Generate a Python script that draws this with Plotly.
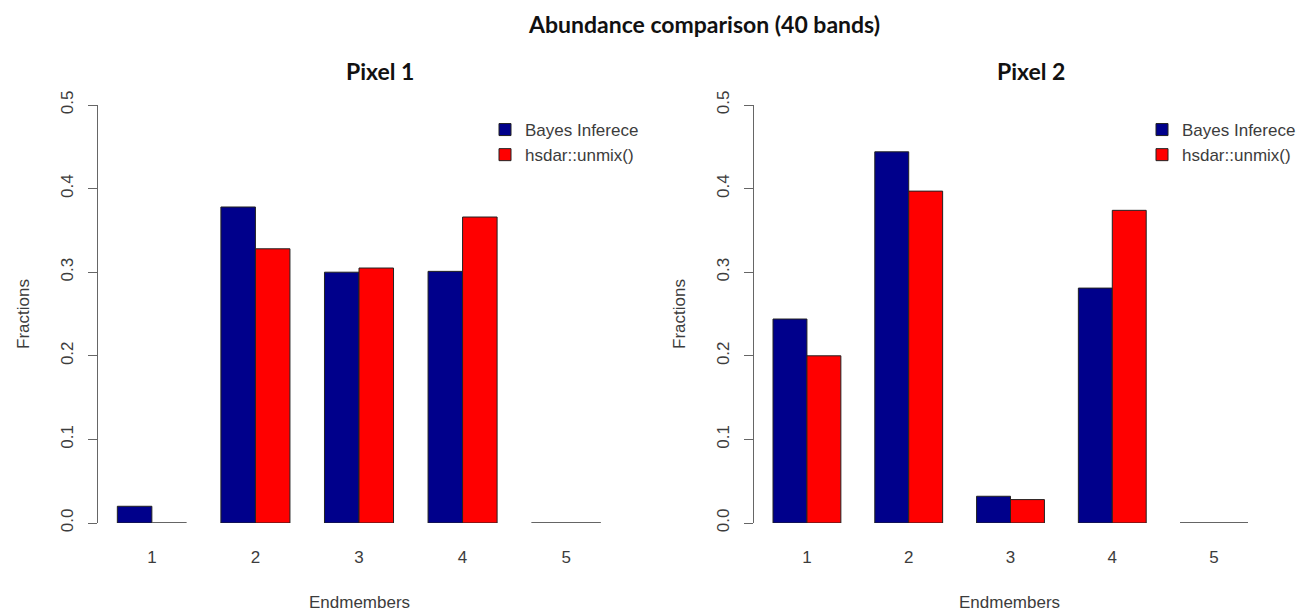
import plotly.graph_objects as go

# ---- data ----
endmembers = [1, 2, 3, 4, 5]
tick_labels = ["1", "2", "3", "4", "5"]
y_ticks = [0.0, 0.1, 0.2, 0.3, 0.4, 0.5]
y_tick_labels = ["0.0", "0.1", "0.2", "0.3", "0.4", "0.5"]

pixel1_bayes = [0.020, 0.378, 0.300, 0.301, 0.0]
pixel1_hsdar = [0.0, 0.328, 0.305, 0.366, 0.0]
pixel2_bayes = [0.244, 0.444, 0.032, 0.281, 0.0]
pixel2_hsdar = [0.200, 0.397, 0.028, 0.374, 0.0]

series_names = ["Bayes Inferece", "hsdar::unmix()"]
series_colors = ["#00008B", "#FF0000"]
panel_titles = ["Pixel 1", "Pixel 2"]
main_title = "Abundance comparison (40 bands)"

# page body has an 8px default margin; the figure is sized to fit the window
OFF = 8
W, H = 1307 - OFF, 613 - OFF


def px(x):
    return (x - OFF) / W


def py(y):
    return 1 - (y - OFF) / H


BAR_W = 1 / 3
TEXT = "#3c3c3c"
AXIS = "#666666"
FONT = "Liberation Sans, Arial"
FS = 17

fig = go.Figure()

panels = [
    (pixel1_bayes, pixel1_hsdar, "x", "y", "legend"),
    (pixel2_bayes, pixel2_hsdar, "x2", "y2", "legend2"),
]

shapes = []
for bayes, hsdar, xa, ya, lg in panels:
    for k, (vals, name, col) in enumerate(zip([bayes, hsdar], series_names, series_colors)):
        fig.add_trace(go.Bar(
            x=endmembers, y=vals, name=name, xaxis=xa, yaxis=ya,
            marker=dict(color=col, line=dict(color="#222222", width=1)),
            legend=lg, offsetgroup=str(k),
        ))
        # zero-height bars: R draws just their border as a flat line
        for xv, v in zip(endmembers, vals):
            if v == 0:
                x0 = xv - BAR_W if k == 0 else xv
                shapes.append(dict(type="line", xref=xa, yref=ya,
                                   x0=x0, x1=x0 + BAR_W, y0=0, y1=0,
                                   line=dict(color="#6a6a6a", width=1.5)))

yd = [py(523), py(105)]
xd1 = [px(98), px(620)]
xd2 = [px(754), px(1267)]
xr = [0.48, 5.52]

xaxis_common = dict(range=xr, tickvals=endmembers, ticktext=tick_labels,
                    showgrid=False, zeroline=False, showline=False, ticks="",
                    tickfont=dict(family=FONT, size=FS, color=TEXT),
                    ticklabelstandoff=22, fixedrange=True)
yaxis_common = dict(range=[0, 0.5], domain=yd, tickvals=y_ticks, ticktext=y_tick_labels,
                    showgrid=False, zeroline=False, showline=True, linecolor=AXIS,
                    linewidth=1.2, ticks="outside", ticklen=9, tickcolor=AXIS,
                    tickwidth=1.2, tickangle=-90,
                    tickfont=dict(family=FONT, size=FS, color=TEXT),
                    ticklabelstandoff=8, fixedrange=True)

legend_common = dict(bgcolor="rgba(0,0,0,0)", font=dict(family=FONT, size=FS, color=TEXT),
                     xanchor="left", yanchor="top", itemwidth=30, tracegroupgap=0,
                     itemclick=False, itemdoubleclick=False)

annotations = [
    dict(text="<b>" + main_title + "</b>", x=px(704), y=py(24), xref="paper", yref="paper",
         showarrow=False, font=dict(family="Lato", size=23, color="#111111"),
         xanchor="center", yanchor="middle"),
]
for t, cx in zip(panel_titles, [380, 1031]):
    annotations.append(dict(text="<b>" + t + "</b>", x=px(cx), y=py(71), xref="paper", yref="paper",
                            showarrow=False, font=dict(family="Lato", size=23, color="#111111"),
                            xanchor="center", yanchor="middle"))
for fx in [23, 679]:
    annotations.append(dict(text="Fractions", x=px(fx), y=py(314), xref="paper", yref="paper",
                            showarrow=False, textangle=-90,
                            font=dict(family=FONT, size=FS, color=TEXT),
                            xanchor="center", yanchor="middle"))
for cx in [359, 1009]:
    annotations.append(dict(text="Endmembers", x=px(cx), y=py(602), xref="paper", yref="paper",
                            showarrow=False, font=dict(family=FONT, size=FS, color=TEXT),
                            xanchor="center", yanchor="middle"))

fig.update_layout(
    width=W, height=H,
    margin=dict(l=0, r=0, t=0, b=0, autoexpand=False),
    paper_bgcolor="white", plot_bgcolor="white",
    barmode="group", bargap=1 / 3, bargroupgap=0,
    xaxis=dict(domain=xd1, anchor="y", **xaxis_common),
    xaxis2=dict(domain=xd2, anchor="y2", **xaxis_common),
    yaxis=dict(anchor="x", **yaxis_common),
    yaxis2=dict(anchor="x2", **yaxis_common),
    legend=dict(x=px(485), y=py(112), **legend_common),
    legend2=dict(x=px(1142), y=py(112), **legend_common),
    shapes=shapes,
    annotations=annotations,
    showlegend=True,
)

fig.write_html("out.html")
